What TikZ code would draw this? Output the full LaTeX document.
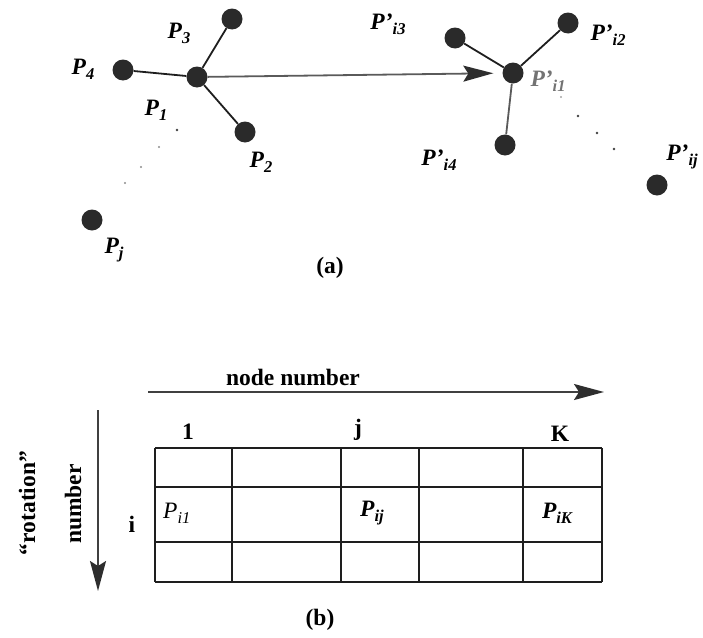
\documentclass[tikz,border=0pt]{standalone}
\usepackage{fontspec}
\setmainfont{Liberation Serif}
\usetikzlibrary{arrows.meta}
\definecolor{dotc}{HTML}{2A2A2A}
\definecolor{linec}{HTML}{1E1E1E}
\definecolor{grayline}{HTML}{5A5A5A}
\definecolor{tipc}{HTML}{2E2E2E}
\newcommand\Pl[2]{\textit{P#1\raisebox{-0.45ex}{\fontsize{16.5}{16.5}\selectfont#2}}}
\begin{document}
\begin{tikzpicture}[x=1pt,y=-1pt,
  dot/.style={circle,fill=dotc,inner sep=0pt,minimum size=21pt},
  ln/.style={line width=1.8pt,draw=linec},
  gln/.style={line width=1.8pt,draw=grayline},
  lbl/.style={inner sep=0pt,font=\fontsize{23.5}{28}\selectfont\bfseries},
  glbl/.style={lbl,text=black!55},
  speck/.style={fill=black!#1},
  bigarrow/.style={-{Stealth[length=30pt,width=16pt,inset=5pt,color=tipc]}},
  tab/.style={line width=1.6pt,draw=linec}]
\useasboundingbox (0,0) rectangle (703,637);

% ---------- (a) left cluster
\node[dot] (p1) at (197,77) {};
\node[dot] (p3) at (232,19) {};
\node[dot] (p4) at (123,70) {};
\node[dot] (p2) at (245,132) {};
\node[dot] (pj) at (92,220) {};
\draw[ln] (p1) -- (p4);
\draw[ln] (p1) -- (p3);
\draw[ln] (p1) -- (p2);
\fill[speck=75] (177,130) circle (1.3);
\fill[speck=45] (159,147) circle (1.2);
\fill[speck=45] (141,167) circle (1.2);
\fill[speck=45] (125,183) circle (1.2);

\node[lbl] (l3) at (179,33) {\Pl{}{3}};
\node[lbl] (l4) at (83,69) {\Pl{}{4}};
\node[lbl] (l1) at (156,110) {\Pl{}{1}};
\node[lbl] (l2) at (261,162) {\Pl{}{2}};
\node[lbl] (lj) at (114,250) {\Pl{}{j}};

% ---------- (a) right cluster
\node[dot] (q1) at (513,73) {};
\node[dot] (q3) at (455,38) {};
\node[dot] (q2) at (568,23) {};
\node[dot] (q4) at (505,145) {};
\node[dot] (qj) at (657,185) {};
\draw[ln] (q1) -- (q3);
\draw[ln] (q1) -- (q2);
\draw[gln] (q1) -- (q4);
\fill[speck=35] (561,97) circle (1.1);
\fill[speck=75] (578,116) circle (1.3);
\fill[speck=75] (597,133) circle (1.3);
\fill[speck=75] (614,149) circle (1.3);

\draw[gln,bigarrow,shorten >=9pt] (p1) -- (q1);

\node[lbl] (m3) at (388,24) {\Pl{’}{i3}};
\node[lbl] (m2) at (608,35) {\Pl{’}{i2}};
\node[glbl] (m1) at (548,81) {\Pl{’}{i1}};
\node[lbl] (m4) at (439,160) {\Pl{’}{i4}};
\node[lbl] (mj) at (682,157) {\Pl{’}{ij}};

\node[lbl] (capa) at (330,268) {(a)};

% ---------- (b)
\coordinate (ha) at (148,392);
\coordinate (hb) at (604,392);
\draw[gln,draw=black!75,bigarrow] (ha) -- (hb);
\node[lbl] (nn) at (293,377) {node number};

\coordinate (va) at (98,410);
\coordinate (vb) at (98,591);
\draw[gln,draw=black!75,bigarrow] (va) -- (vb);
\node[lbl,rotate=90] (rot) at (27,503) {“rotation”};
\node[lbl,rotate=90] (num) at (73,504) {number};
\node[lbl] (ii) at (132,524) {i};

\node[lbl] (c1) at (188,432) {1};
\node[lbl] (cj) at (358,430) {j};
\node[lbl] (cK) at (560,434) {K};

% table grid
\foreach \yy in {448,487,542,582} \draw[tab] (155,\yy) -- (602,\yy);
\foreach \xx in {155,232,341,419,523,602} \draw[tab] (\xx,448) -- (\xx,582);

\node[lbl,anchor=west,font=\fontsize{23.5}{28}\selectfont\mdseries] (t1) at (163,513) {\Pl{}{i1}};
\node[lbl] (tj) at (372,513) {\Pl{}{ij}};
\node[lbl] (tK) at (557,513) {\Pl{}{iK}};

\node[lbl] (capb) at (320,620) {(b)};
\end{tikzpicture}
\end{document}
